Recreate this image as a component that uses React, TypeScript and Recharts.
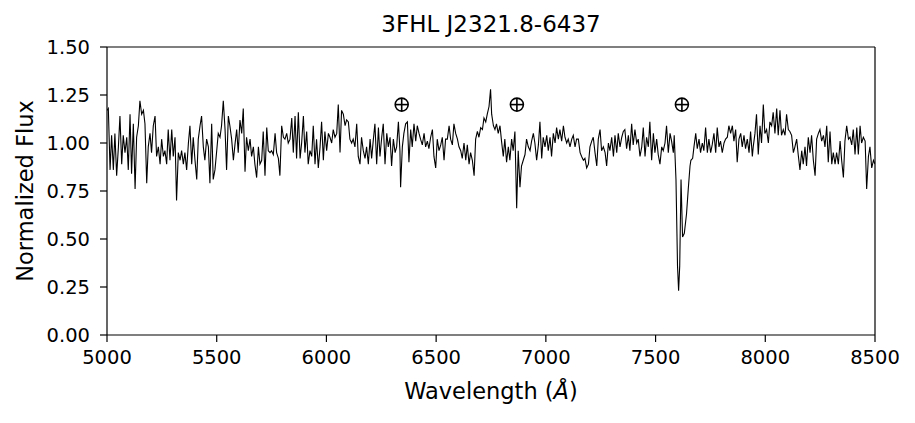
import {
  ComposedChart,
  Label,
  Line,
  ReferenceDot,
  ReferenceLine,
  XAxis,
  YAxis,
} from "recharts";

// [wavelength (Å), normalized flux]
const specBlue: [number, number][] = [
  [5000, 1.17], [5006, 1.18], [5014, 0.86], [5021, 1.04], [5029, 0.86], [5036, 1.05], [5044, 0.83], [5052, 0.98],
  [5059, 1.14], [5067, 0.89], [5074, 1.04], [5082, 0.95], [5090, 1.03], [5097, 0.86], [5105, 1.15], [5112, 0.84],
  [5120, 1.1], [5128, 0.76], [5135, 1.03], [5143, 1.09], [5150, 1.22], [5158, 1.15], [5166, 1.17], [5173, 1.1],
  [5181, 0.79], [5188, 0.98], [5196, 1.05], [5203, 0.95], [5211, 1.09], [5219, 1.14], [5226, 0.93], [5234, 0.98],
  [5242, 0.89], [5249, 1.02], [5257, 0.93], [5264, 0.96], [5272, 0.89], [5279, 1.07], [5287, 0.91], [5295, 1.07],
  [5302, 0.93], [5310, 1.03], [5317, 0.7], [5325, 0.95], [5333, 0.91], [5340, 0.96], [5348, 0.89], [5355, 0.95],
  [5363, 0.86], [5371, 1.0], [5378, 1.09], [5386, 0.89], [5393, 1.03], [5401, 0.91], [5409, 0.81], [5416, 1.02],
  [5424, 1.09], [5431, 1.14], [5439, 0.98], [5446, 0.91], [5454, 1.02], [5462, 0.98], [5469, 0.79], [5477, 1.1],
  [5484, 0.81], [5492, 0.86], [5500, 0.96], [5507, 1.05], [5515, 1.03], [5522, 1.09], [5530, 1.22], [5538, 1.07],
  [5545, 0.86], [5553, 1.14], [5560, 1.09], [5568, 1.02], [5576, 0.91], [5583, 0.99], [5591, 1.07], [5598, 0.95],
  [5606, 1.12], [5614, 1.05], [5621, 1.18], [5629, 0.85], [5636, 1.03], [5644, 0.96], [5652, 1.02], [5659, 0.93],
  [5667, 0.98], [5674, 0.89], [5682, 0.82], [5690, 0.98], [5697, 0.89], [5705, 0.91], [5712, 1.06], [5720, 0.83],
  [5728, 1.08], [5735, 0.96], [5743, 0.95], [5750, 0.96], [5758, 0.94], [5766, 1.05], [5773, 0.95], [5781, 0.92],
  [5788, 0.83], [5796, 1.09], [5804, 1.03], [5811, 1.02], [5819, 1.05], [5826, 1.0], [5834, 1.02], [5842, 1.13],
  [5849, 0.95], [5857, 1.14], [5864, 0.92], [5872, 1.16], [5880, 0.92], [5887, 1.0], [5895, 1.14], [5902, 0.95],
  [5910, 1.06], [5917, 0.89], [5925, 0.96], [5933, 0.93], [5940, 1.09], [5948, 0.89], [5955, 1.02], [5963, 0.87],
  [5971, 0.98], [5978, 1.11], [5986, 0.91], [5993, 1.06], [6001, 0.96], [6009, 1.05], [6016, 1.03], [6024, 1.0],
  [6031, 1.07], [6039, 1.03], [6047, 1.05], [6054, 1.2], [6062, 0.95], [6069, 1.17], [6077, 1.15], [6085, 1.09],
  [6092, 1.12], [6100, 1.11], [6107, 1.02], [6115, 1.0], [6122, 1.02], [6130, 0.98], [6138, 1.1], [6145, 0.93],
  [6153, 0.89], [6160, 1.03], [6168, 0.96],
];

const specHalpha: [number, number][] = [
  [6176, 0.92], [6183, 0.98], [6191, 0.89], [6199, 1.02], [6206, 0.92], [6214, 1.02], [6221, 1.1], [6229, 0.89],
  [6237, 1.08], [6244, 0.93], [6252, 1.03], [6259, 1.1], [6267, 0.89], [6275, 1.05], [6282, 0.98], [6290, 1.03],
  [6297, 0.88], [6305, 1.02], [6313, 0.95], [6320, 0.98], [6328, 1.11], [6335, 0.96], [6338, 0.77], [6346, 0.98],
  [6353, 1.05], [6361, 1.1], [6369, 1.11], [6376, 0.9], [6384, 1.07], [6391, 0.98], [6399, 1.1], [6407, 1.01],
  [6414, 1.09], [6422, 1.05], [6429, 1.02], [6437, 0.99], [6445, 1.05], [6452, 0.98], [6460, 1.01], [6467, 0.97],
  [6475, 1.03], [6483, 1.07], [6490, 0.93], [6498, 0.87], [6505, 1.02], [6513, 0.96], [6521, 0.99], [6528, 1.03],
  [6536, 0.91], [6543, 1.02], [6551, 1.02], [6559, 1.09], [6566, 1.02], [6574, 0.99], [6581, 1.1], [6589, 1.05],
  [6597, 1.02], [6604, 0.98], [6612, 0.96], [6619, 0.92], [6627, 1.0], [6635, 0.91], [6642, 0.99], [6650, 0.89],
  [6657, 0.95], [6665, 0.91], [6673, 0.83], [6680, 1.02], [6688, 1.06], [6695, 1.03], [6703, 1.08], [6711, 1.07],
  [6718, 1.13], [6726, 1.11], [6733, 1.15], [6741, 1.19], [6748, 1.28], [6753, 1.15], [6761, 1.09],
];

const specBBand: [number, number][] = [
  [6768, 1.07], [6775, 1.1], [6783, 1.05], [6791, 1.09], [6798, 1.01], [6806, 0.93], [6813, 1.02], [6821, 0.9],
  [6829, 0.98], [6836, 0.91], [6844, 1.02], [6851, 0.96], [6859, 1.06], [6867, 0.66], [6874, 0.96], [6882, 0.77],
  [6889, 0.88], [6897, 0.91], [6905, 0.94], [6912, 1.02], [6920, 0.98], [6928, 0.96], [6935, 1.01], [6943, 1.05],
  [6950, 1.0], [6958, 0.91], [6966, 0.99], [6973, 1.11], [6981, 0.92], [6988, 1.03], [6996, 0.98], [7004, 1.04],
  [7011, 0.96], [7019, 1.03], [7026, 0.93], [7034, 1.05], [7042, 1.0], [7049, 1.08], [7057, 1.02], [7064, 1.07],
  [7072, 1.01], [7080, 1.09], [7087, 1.03], [7095, 1.0], [7102, 1.02], [7110, 0.98], [7118, 1.02], [7125, 1.04],
  [7133, 0.98], [7140, 1.02], [7148, 1.02], [7156, 0.95], [7163, 0.93], [7171, 0.91], [7178, 0.92], [7186, 0.87],
  [7194, 0.89], [7201, 0.98], [7209, 1.01], [7216, 1.03], [7224, 0.95], [7232, 0.88], [7239, 1.02], [7247, 1.07],
  [7254, 0.96], [7262, 0.98], [7270, 0.95], [7277, 0.88], [7285, 1.0], [7292, 0.96], [7300, 1.03], [7308, 0.93],
  [7315, 1.04], [7323, 0.95], [7330, 1.05], [7338, 0.98], [7346, 1.03], [7353, 1.06],
];

const specABand: [number, number][] = [
  [7360, 1.07], [7368, 0.97], [7376, 1.04], [7383, 0.96], [7391, 1.1], [7398, 0.99], [7406, 1.07], [7414, 1.0],
  [7421, 1.02], [7429, 0.93], [7437, 0.98], [7444, 1.08], [7452, 0.93], [7459, 1.03], [7467, 0.98], [7474, 1.11],
  [7482, 0.91], [7490, 1.05], [7497, 0.95], [7505, 1.02], [7512, 0.94], [7520, 0.89], [7528, 0.98], [7535, 0.96],
  [7543, 1.0], [7550, 1.09], [7558, 0.95], [7566, 1.05], [7573, 1.01], [7581, 0.95], [7585, 1.04], [7593, 0.81],
  [7600, 0.36], [7605, 0.23], [7610, 0.36], [7616, 0.81], [7623, 0.51], [7631, 0.53], [7641, 0.63], [7649, 0.76],
  [7657, 0.88], [7661, 0.91], [7669, 0.92], [7675, 0.98], [7683, 1.05], [7690, 0.97], [7698, 1.02], [7705, 0.95],
  [7713, 1.0], [7720, 0.96], [7728, 1.08], [7736, 0.95], [7743, 1.02], [7751, 0.95], [7758, 0.99], [7766, 1.05],
  [7774, 0.95], [7781, 1.08], [7789, 0.98], [7796, 1.01], [7804, 0.95], [7812, 1.0], [7819, 1.02], [7827, 1.03],
  [7834, 1.09], [7842, 1.05], [7850, 1.09], [7857, 1.01], [7865, 1.07], [7872, 0.9], [7880, 1.02], [7888, 1.05],
  [7895, 0.98], [7903, 1.04], [7910, 0.97], [7918, 1.02], [7926, 0.95], [7933, 1.06], [7941, 0.93],
];

const specRed: [number, number][] = [
  [7945, 0.98], [7953, 1.05], [7960, 1.15], [7968, 0.94], [7976, 1.09], [7983, 1.0], [7991, 1.2], [7998, 1.05],
  [8006, 1.07], [8014, 1.0], [8021, 1.11], [8029, 1.09], [8036, 1.16], [8044, 1.05], [8052, 1.18], [8059, 1.04],
  [8067, 1.17], [8074, 1.04], [8082, 1.07], [8090, 1.04], [8097, 1.15], [8105, 1.07], [8112, 1.06], [8120, 1.04],
  [8128, 0.95], [8135, 0.98], [8143, 1.02], [8150, 0.94], [8158, 0.86], [8166, 0.96], [8173, 0.89], [8181, 0.98],
  [8188, 0.88], [8196, 1.03], [8204, 0.95], [8211, 1.04], [8219, 0.91], [8227, 0.83], [8234, 1.02], [8242, 1.05],
  [8249, 1.07], [8257, 1.01], [8265, 1.04], [8272, 0.98], [8280, 1.09], [8287, 0.9], [8295, 1.06], [8303, 0.89],
  [8310, 0.95], [8318, 0.89], [8325, 0.95], [8333, 0.89], [8341, 1.01], [8348, 0.91], [8356, 0.82], [8363, 1.01],
  [8371, 1.09], [8379, 1.02], [8386, 1.03], [8394, 0.99], [8401, 1.07], [8409, 0.94], [8417, 1.08], [8424, 0.94],
  [8432, 1.09], [8439, 1.0], [8447, 1.03], [8455, 1.01], [8462, 0.76], [8470, 0.93], [8477, 0.98], [8485, 0.87],
  [8493, 0.91], [8500, 0.89],
];

// telluric markers (⊕)
const telluric: [number, number][] = [
  [6343, 1.2],
  [6868, 1.2],
  [7620, 1.2],
];

const xTicks = [5000, 5500, 6000, 6500, 7000, 7500, 8000, 8500];
const yTicks = [0, 0.25, 0.5, 0.75, 1.0, 1.25, 1.5];

const spectrum = [...specBlue, ...specHalpha, ...specBBand, ...specABand, ...specRed].map(
  ([wl, flux]) => ({ wl, flux })
);

const FONT = "DejaVu Sans, sans-serif";
const tickStyle = { fill: "#000", fontSize: 19.5, fontFamily: FONT };
const LABEL_SIZE = 22.5;

function EarthMark(props: any) {
  const { cx, cy } = props;
  const r = 6.5;
  return (
    <g stroke="#000" strokeWidth={1.6} fill="none">
      <circle cx={cx} cy={cy} r={r} />
      <line x1={cx - r} y1={cy} x2={cx + r} y2={cy} />
      <line x1={cx} y1={cy - r} x2={cx} y2={cy + r} />
    </g>
  );
}

export default function App() {
  return (
    <div style={{ position: "absolute", left: 0, top: 0, width: 915, height: 423, background: "#fff" }}>
      <svg
        width={915}
        height={45}
        style={{ position: "absolute", left: 0, top: 0 }}
      >
        <text x={491} y={32} textAnchor="middle" fontFamily={FONT} fontSize={23} fill="#000">
          3FHL J2321.8-6437
        </text>
      </svg>
      <ComposedChart
        width={915}
        height={423}
        data={spectrum}
        margin={{ top: 47, right: 40, bottom: 0, left: 0 }}
      >
        <XAxis
          dataKey="wl"
          type="number"
          domain={[5000, 8500]}
          ticks={xTicks}
          allowDataOverflow
          height={88}
          tick={tickStyle}
          tickSize={7}
          tickMargin={8}
          axisLine={{ stroke: "#000", strokeWidth: 1.2 }}
          tickLine={{ stroke: "#000", strokeWidth: 1.2 }}
        >
          <Label
            content={(p: any) => {
              const vb = p.viewBox;
              return (
                <text
                  x={vb.x + vb.width / 2}
                  y={399}
                  textAnchor="middle"
                  fontFamily={FONT}
                  fontSize={LABEL_SIZE}
                  fill="#000"
                >
                  Wavelength (<tspan fontStyle="italic">Å</tspan>)
                </text>
              );
            }}
          />
        </XAxis>
        <YAxis
          type="number"
          domain={[0, 1.5]}
          ticks={yTicks}
          allowDataOverflow
          width={107}
          tick={tickStyle}
          tickSize={7}
          tickMargin={10}
          tickFormatter={(v: number) => v.toFixed(2)}
          axisLine={{ stroke: "#000", strokeWidth: 1.2 }}
          tickLine={{ stroke: "#000", strokeWidth: 1.2 }}
        >
          <Label
            content={(p: any) => {
              const vb = p.viewBox;
              const cy = vb.y + vb.height / 2;
              return (
                <text
                  x={33}
                  y={cy}
                  textAnchor="middle"
                  transform={`rotate(-90, 33, ${cy})`}
                  fontFamily={FONT}
                  fontSize={LABEL_SIZE}
                  fill="#000"
                >
                  Normalized Flux
                </text>
              );
            }}
          />
        </YAxis>
        <ReferenceLine y={1.5} stroke="#000" strokeWidth={1.2} />
        <ReferenceLine x={8500} stroke="#000" strokeWidth={1.2} />
        <Line
          dataKey="flux"
          type="linear"
          stroke="#000"
          strokeWidth={1.1}
          dot={false}
          activeDot={false}
          isAnimationActive={false}
        />
        {telluric.map(([wl, f]) => (
          <ReferenceDot key={wl} x={wl} y={f} r={6} shape={EarthMark} />
        ))}
      </ComposedChart>
    </div>
  );
}
